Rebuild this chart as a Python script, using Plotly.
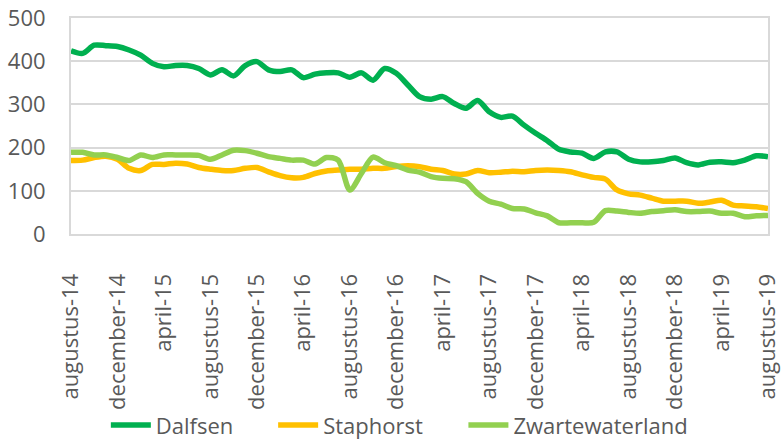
import plotly.graph_objects as go

month_names = ["januari", "februari", "maart", "april", "mei", "juni", "juli",
               "augustus", "september", "oktober", "november", "december"]
months = []
for k in range(61):
    m = (7 + k) % 12
    y = 14 + (7 + k) // 12
    months.append(f"{month_names[m]}-{y}")

dalfsen = [424, 418, 437, 436, 434, 426, 414, 395, 387, 390, 390, 383, 368, 380, 366,
           390, 399, 380, 376, 380, 362, 370, 373, 373, 363, 373, 356, 383, 372, 345,
           318, 312, 318, 302, 291, 309, 283, 270, 273, 252, 233, 216, 196, 190, 187,
           175, 190, 190, 173, 167, 167, 170, 176, 165, 160, 166, 167, 165, 171, 181, 179]
staphorst = [170, 171, 177, 180, 173, 152, 147, 161, 161, 164, 162, 154, 150, 147, 147,
             152, 154, 144, 135, 130, 131, 140, 146, 148, 150, 150, 152, 152, 156, 158,
             156, 150, 147, 139, 139, 147, 142, 143, 145, 144, 147, 148, 147, 144, 137,
             131, 127, 102, 93, 90, 83, 76, 76, 76, 71, 74, 78, 67, 65, 63, 59]
zwartewaterland = [189, 189, 183, 183, 177, 170, 183, 177, 183, 183, 183, 182, 173, 183, 194,
                   193, 187, 179, 175, 171, 171, 162, 177, 171, 102, 140, 178, 165, 158, 148,
                   143, 133, 129, 128, 121, 94, 76, 69, 59, 58, 49, 42, 26, 26, 26,
                   27, 54, 53, 50, 48, 52, 54, 56, 52, 52, 53, 48, 48, 40, 42, 43]

tick_idx = list(range(0, 61, 4))
tick_vals = [months[i] for i in tick_idx]

series = [("Dalfsen", dalfsen, "#00B050", "legend", 0.050),
          ("Staphorst", staphorst, "#FFC000", "legend2", 0.290),
          ("Zwartewaterland", zwartewaterland, "#92D050", "legend3", 0.563)]

fig = go.Figure()
for name, vals, col, lg, _ in series:
    fig.add_trace(go.Scatter(x=months, y=vals, name=name, mode="lines", legend=lg,
                             line=dict(color=col, width=5.5, shape="spline", smoothing=0.8)))

font = "Open Sans, Noto Sans, sans-serif"
legend_common = dict(orientation="h", xanchor="left", y=-0.885, yanchor="middle",
                     font=dict(size=22, color="#595959"), itemwidth=40,
                     bgcolor="rgba(0,0,0,0)")
fig.update_layout(
    width=781, height=441,
    margin=dict(l=71, r=13, t=18, b=207, autoexpand=False),
    paper_bgcolor="white", plot_bgcolor="white",
    font=dict(family=font, size=22, color="#595959"),
    showlegend=True,
    legend=dict(x=series[0][4], **legend_common),
    legend2=dict(x=series[1][4], **legend_common),
    legend3=dict(x=series[2][4], **legend_common),
)
fig.update_xaxes(
    type="category", range=[0, 60], tickmode="array", tickvals=tick_vals, ticktext=tick_vals,
    tickangle=-90, showgrid=False, showline=True, linecolor="#D9D9D9", linewidth=2,
    mirror=True, ticks="", ticklabelstandoff=29, automargin=False,
    tickfont=dict(size=22, color="#595959"),
)
fig.update_yaxes(
    range=[0, 500], tickvals=[0, 100, 200, 300, 400, 500], showgrid=True,
    gridcolor="#D9D9D9", gridwidth=1.5, showline=True, linecolor="#D9D9D9", linewidth=2,
    mirror=True, zeroline=False, ticks="", ticklabelstandoff=19, automargin=False,
    tickfont=dict(size=22, color="#595959"),
)
fig.write_html("out.html", config={"displayModeBar": False})

with open("out.html", "r", encoding="utf-8") as f:
    html = f.read()
css = ("<style>html,body{margin:0;padding:0;width:781px;height:441px;overflow:hidden;}"
       "body>div{width:781px;height:441px;overflow:hidden;}"
       ".plotly-graph-div{display:block;}</style>")
html = html.replace("<head>", "<head>" + css, 1)
with open("out.html", "w", encoding="utf-8") as f:
    f.write(html)
